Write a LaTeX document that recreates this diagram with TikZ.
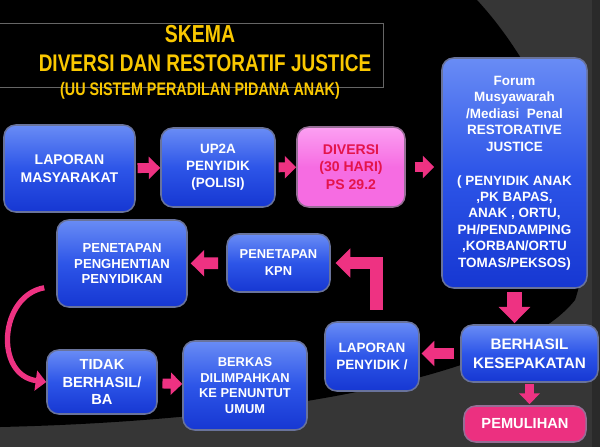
\documentclass[tikz,border=0pt]{standalone}
\usepackage{fontspec}
\setmainfont{Liberation Sans}
\newfontfamily\ttlfont[FakeStretch=0.79]{Liberation Sans}
\usetikzlibrary{arrows.meta,positioning,calc}
\definecolor{bgray}{RGB}{54,54,54}
\definecolor{edgegray}{RGB}{42,42,42}
\definecolor{ttlyel}{RGB}{250,200,0}
\definecolor{bluetop}{RGB}{105,140,245}
\definecolor{bluemid}{RGB}{45,85,232}
\definecolor{bluebot}{RGB}{22,55,210}
\definecolor{bluebrd}{RGB}{105,115,155}
\definecolor{pinkarr}{RGB}{238,50,130}
\definecolor{pinktop}{RGB}{252,160,242}
\definecolor{pinkbox}{RGB}{246,108,226}
\definecolor{pinkbrd}{RGB}{150,110,150}
\definecolor{pulihpk}{RGB}{236,48,128}
\definecolor{divred}{RGB}{228,20,75}
\newcommand{\pxu}{0.03cm}
\newcommand{\bxf}[2]{\fontsize{#1}{#2}\selectfont\bfseries}
\tikzset{
  bsize/.style 2 args={minimum width=#1*\pxu, minimum height=#2*\pxu},
  bbox/.style={draw=bluebrd, line width=1.3pt, rounded corners=10pt, top color=bluetop,
      bottom color=bluebot, middle color=bluemid, text=white, align=center, inner sep=2pt},
  pbox/.style={bbox, draw=pinkbrd, top color=pinktop, bottom color=pinkbox,
      middle color=pinkbox, text=divred},
  mbox/.style={bbox, draw=pinkbrd, top color=pulihpk, bottom color=pulihpk,
      middle color=pulihpk},
  ttl/.style={text=ttlyel, inner sep=0pt},
  parr/.style={pinkarr, line width=#1, -{Triangle[length=0pt 1.15, width=0pt 2.2]}},
  parr/.default=8.5pt,
  carr/.style={pinkarr, line width=4.5pt, -{Triangle[length=9pt, width=17pt]}},
}

\begin{document}
\begin{tikzpicture}[x=0.03cm,y=-0.03cm]
\useasboundingbox (0,0) rectangle (600,447);
% background
\fill[bgray] (0,0) rectangle (600,447);
\fill[black] (0,0) -- (477,0) .. controls (560,90) and (600,230) .. (575,300)
  .. controls (520,370) and (300,420) .. (0,427) -- cycle;
\fill[edgegray] (592,0) rectangle (600,447);
\draw[black!60!white, line width=0.5pt] (-2,23) rectangle (383,87);
% title
\node[ttl, font=\ttlfont\bfseries\fontsize{21}{21}\selectfont] (ttlA) at (200,34) {SKEMA};
\node[ttl, font=\ttlfont\bfseries\fontsize{20.5}{20.5}\selectfont] (ttlB) at (205,63.5) {DIVERSI DAN RESTORATIF JUSTICE};
\node[ttl, font=\ttlfont\bfseries\fontsize{15.5}{15.5}\selectfont] (ttlC) at (200,91) {(UU SISTEM PERADILAN PIDANA ANAK)};
% boxes
\node[bbox, bsize={131}{87}, font=\bxf{12}{15}] (lapor) at (69.5,168.5) {LAPORAN\\MASYARAKAT};
\node[bbox, bsize={114}{79}, font=\bxf{11.5}{14.5}] (up2a) at (218,167.5) {UP2A\\PENYIDIK\\(POLISI)};
\node[pbox, bsize={108}{80}, font=\bxf{12}{15}] (diversi) at (351,167) {DIVERSI\\(30 HARI)\\PS 29.2};
\node[bbox, bsize={145}{230}, font=\bxf{11.5}{14}] (forum) at (514.5,173)
  {Forum\\Musyawarah\\/Mediasi\ \ Penal\\RESTORATIVE\\JUSTICE\\[15pt]( PENYIDIK ANAK\\,PK BAPAS,\\ANAK , ORTU,\\PH/PENDAMPING\\,KORBAN/ORTU\\TOMAS/PEKSOS)};
\node[bbox, bsize={130}{87}, font=\bxf{11.2}{13.5}] (henti) at (122,263.5) {PENETAPAN\\PENGHENTIAN\\PENYIDIKAN};
\node[bbox, bsize={103}{58}, font=\bxf{11}{14.5}] (kpn) at (278.5,263) {PENETAPAN\\KPN};
\node[bbox, bsize={110}{64}, font=\bxf{12.5}{15}] (tidak) at (102,382) {TIDAK\\BERHASIL/\\BA};
\node[bbox, bsize={124}{89}, font=\bxf{11}{13.3}] (berkas) at (245,385.5) {BERKAS\\DILIMPAHKAN\\KE PENUNTUT\\UMUM};
\node[bbox, bsize={94}{69}, font=\bxf{11.5}{15}] (lappen) at (372,356.5) {LAPORAN\\PENYIDIK /};
\node[bbox, bsize={137}{57}, font=\bxf{13}{16}] (hasil) at (529.5,353.5) {BERHASIL\\KESEPAKATAN};
\node[mbox, bsize={122}{36}, font=\bxf{12.5}{15}] (pulih) at (525,424) {PEMULIHAN};
% arrows
\draw[parr, shorten <=1.5pt] (lapor) -- (up2a);
\draw[parr, shorten <=2.5pt] (up2a) -- (diversi);
\draw[parr, shorten <=7.5pt, shorten >=6pt] (diversi.east) -- (diversi.east -| forum.west);
\draw[parr=12pt, shorten <=3pt, shorten >=1pt] (forum.south) -- (forum.south |- hasil.north);
\draw[parr=8pt, shorten <=1pt, shorten >=1pt] (hasil.south) -- (hasil.south |- pulih.north);
\draw[parr=9.5pt, shorten <=5pt, shorten >=1.5pt] (hasil.west) -- (hasil.west -| lappen.east);
\draw[parr=11pt, line join=miter, shorten <=10pt, shorten >=4pt] ([xshift=0.135cm]lappen.north) |- (kpn.east);
\draw[parr=10pt, shorten <=7pt, shorten >=2.5pt] (kpn) -- (henti);
\draw[carr] ([shift={(-12,-20)}]henti.south west) .. controls +(-45,8) and +(-52,-7) .. (tidak.west);
\draw[parr, shorten <=4pt] (tidak) -- (berkas);
\end{tikzpicture}
\end{document}
